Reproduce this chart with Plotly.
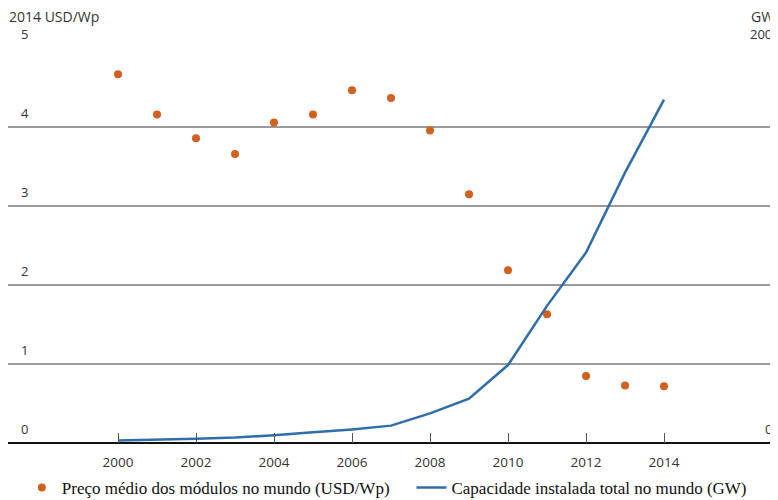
import plotly.graph_objects as go

years = list(range(2000, 2015))
price_usd_wp = [4.67, 4.16, 3.86, 3.66, 4.06, 4.16, 4.47, 4.37, 3.96, 3.15, 2.19, 1.63, 0.85, 0.73, 0.72]
capacity_gw = [1.3, 1.6, 2.2, 2.8, 3.9, 5.4, 6.9, 8.8, 15.0, 22.5, 39.5, 69.5, 96.5, 137.0, 174.0]

x_ticks = [2000, 2002, 2004, 2006, 2008, 2010, 2012, 2014]
left_ticks = [0, 1, 2, 3, 4, 5]
right_ticks = [0, 200]

name_price = "Preço médio dos módulos no mundo (USD/Wp)"
name_cap = "Capacidade instalada total no mundo (GW)"

sans = "Open Sans, Liberation Sans, sans-serif"
tick_font = dict(family=sans, size=13, color="#333333")
xtick_font = dict(family=sans, size=13.5, color="#333333")
legend_font = dict(family="Liberation Serif, serif", size=17, color="#111111")

fig = go.Figure()
fig.add_trace(go.Scatter(
    x=years, y=price_usd_wp, mode="markers", name=name_price,
    marker=dict(color="#d2601e", size=8, line=dict(width=0)),
    yaxis="y", legend="legend",
))
fig.add_trace(go.Scatter(
    x=years, y=capacity_gw, mode="lines", name=name_cap,
    line=dict(color="#2f6dab", width=2.5),
    yaxis="y2", legend="legend2",
))

annotations = []
for v in left_ticks:
    annotations.append(dict(
        text=str(v), xref="paper", yref="y", x=0, y=v,
        xanchor="left", yanchor="bottom", xshift=11, yshift=3,
        showarrow=False, font=tick_font))
for v in right_ticks:
    annotations.append(dict(
        text=str(v), xref="paper", yref="y2", x=1, y=v,
        xanchor="right", yanchor="bottom", xshift=-4, yshift=3,
        showarrow=False, font=tick_font))
annotations.append(dict(
    text="2014 USD/Wp", xref="paper", yref="paper", x=0, y=1.0,
    xanchor="left", yanchor="bottom", yshift=20, xshift=-1, showarrow=False,
    font=dict(family=sans, size=14, color="#333333")))
annotations.append(dict(
    text="GW", xref="paper", yref="paper", x=1.0, y=1.0,
    xanchor="right", yanchor="bottom", yshift=20, xshift=-2, showarrow=False,
    font=dict(family=sans, size=14, color="#333333")))

fig.update_layout(
    width=770, height=492,
    margin=dict(l=0, r=0, t=40, b=57, autoexpand=False),
    paper_bgcolor="white", plot_bgcolor="white",
    showlegend=True,
    legend=dict(
        orientation="h", x=0.018, xanchor="left", y=-0.114, yanchor="middle",
        font=legend_font, bgcolor="rgba(0,0,0,0)",
    ),
    legend2=dict(
        orientation="h", x=0.524, xanchor="left", y=-0.114, yanchor="middle",
        font=legend_font, bgcolor="rgba(0,0,0,0)",
    ),
    xaxis=dict(
        range=[1997.179, 2016.923],
        tickvals=x_ticks, ticktext=[str(v) for v in x_ticks],
        ticks="inside", ticklen=10, tickcolor="#555555", tickwidth=1,
        ticklabelstandoff=9,
        showgrid=False, zeroline=False, showline=False,
        tickfont=xtick_font,
    ),
    yaxis=dict(
        range=[0, 5.004],
        tickvals=left_ticks, showticklabels=False,
        showgrid=True, gridcolor="#9a9a9a", gridwidth=1.5,
        zeroline=True, zerolinecolor="#111111", zerolinewidth=2,
        showline=False, ticks="",
    ),
    yaxis2=dict(
        range=[0, 200.16],
        overlaying="y", side="right",
        tickvals=right_ticks, showticklabels=False,
        showgrid=False, zeroline=False, showline=False, ticks="",
    ),
    annotations=annotations,
)

fig.write_html("out.html")
